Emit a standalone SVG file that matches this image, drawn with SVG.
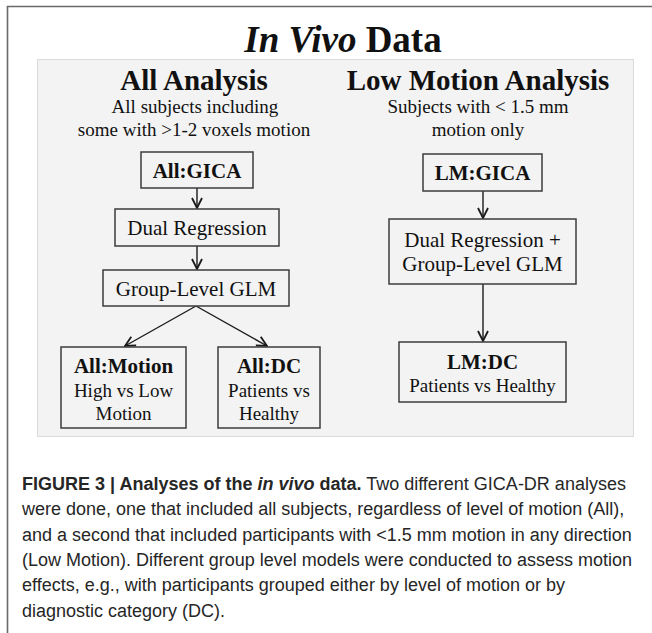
<svg xmlns="http://www.w3.org/2000/svg" width="652" height="633" viewBox="0 0 652 633">
<style>
.serif{font-family:"Liberation Serif","Times New Roman",serif;fill:#111;text-anchor:middle}
.h{font-size:29px;font-weight:bold}
.sub{font-size:19px}
.nb{font-size:21px;font-weight:bold}
.nt{font-size:21px}
.ns{font-size:19px}
.box{fill:#f3f3f3;stroke:#3c3c3c;stroke-width:1.5}
.conn{stroke:#1a1a1a;stroke-width:1.4;fill:none}
.cap{font-family:"Liberation Sans",Arial,sans-serif;font-size:18px;fill:#262626}
</style>
<defs>
<marker id="arr" viewBox="0 0 12 12" refX="11" refY="6" markerWidth="12" markerHeight="12" markerUnits="userSpaceOnUse" orient="auto">
<path d="M1,1 L11,6 L1,11" fill="none" stroke="#1a1a1a" stroke-width="1.8"/>
</marker>
</defs>
<rect width="652" height="633" fill="#fff"/>
<path d="M7.5,633 V6.5 H652" fill="none" stroke="#6a6a6a" stroke-width="1.6"/>
<rect x="37.5" y="59.5" width="596" height="377" fill="#f3f3f3" stroke="#dadada" stroke-width="1"/>
<text class="serif" x="343" y="52" font-size="37" font-weight="bold"><tspan font-style="italic">In Vivo</tspan> Data</text>
<g id="all-header">
<text class="serif h" x="194" y="90">All Analysis</text>
<text class="serif sub" x="195" y="113">All subjects including</text>
<text class="serif sub" x="194" y="136">some with &gt;1-2 voxels motion</text>
</g>
<g id="lm-header">
<text class="serif h" x="478" y="90">Low Motion Analysis</text>
<text class="serif sub" x="478" y="113">Subjects with &lt; 1.5 mm</text>
<text class="serif sub" x="478" y="136">motion only</text>
</g>
<g id="connectors">
<line class="conn" x1="197" y1="188" x2="197" y2="208" marker-end="url(#arr)"/>
<line class="conn" x1="197" y1="246" x2="197" y2="269" marker-end="url(#arr)"/>
<line class="conn" x1="196" y1="306" x2="125" y2="346" marker-end="url(#arr)"/>
<line class="conn" x1="196" y1="306" x2="267" y2="346" marker-end="url(#arr)"/>
<line class="conn" x1="483" y1="191" x2="483" y2="218" marker-end="url(#arr)"/>
<line class="conn" x1="483" y1="284" x2="483" y2="341" marker-end="url(#arr)"/>
</g>
<g id="all-gica">
<rect class="box" x="141" y="152" width="112" height="36"/>
<text class="serif nb" x="197" y="178">All:GICA</text>
</g>
<g id="all-dual-regression">
<rect class="box" x="115" y="209" width="164" height="37"/>
<text class="serif nt" x="197" y="235">Dual Regression</text>
</g>
<g id="all-group-glm">
<rect class="box" x="103" y="270" width="186" height="36"/>
<text class="serif nt" x="196" y="296">Group-Level GLM</text>
</g>
<g id="all-motion">
<rect class="box" x="61" y="347" width="125" height="81"/>
<text class="serif nb" x="123.5" y="373">All:Motion</text>
<text class="serif ns" x="123.5" y="397">High vs Low</text>
<text class="serif ns" x="123.5" y="420">Motion</text>
</g>
<g id="all-dc">
<rect class="box" x="218" y="347" width="102" height="81"/>
<text class="serif nb" x="269" y="373">All:DC</text>
<text class="serif ns" x="269" y="397">Patients vs</text>
<text class="serif ns" x="269" y="420">Healthy</text>
</g>
<g id="lm-gica">
<rect class="box" x="423" y="154" width="119" height="37"/>
<text class="serif nb" x="482.5" y="180">LM:GICA</text>
</g>
<g id="lm-dual-glm">
<rect class="box" x="389" y="219" width="187" height="65"/>
<text class="serif nt" x="482.5" y="247">Dual Regression +</text>
<text class="serif nt" x="482.5" y="271">Group-Level GLM</text>
</g>
<g id="lm-dc">
<rect class="box" x="399" y="342" width="167" height="60"/>
<text class="serif nb" x="482.5" y="369">LM:DC</text>
<text class="serif ns" x="482.5" y="392">Patients vs Healthy</text>
</g>
<g id="caption">
<text class="cap" x="22" y="490"><tspan font-weight="bold">FIGURE 3 | Analyses of the <tspan font-style="italic">in vivo</tspan> data.</tspan> Two different GICA-DR analyses</text>
<text class="cap" x="22" y="515">were done, one that included all subjects, regardless of level of motion (All),</text>
<text class="cap" x="22" y="540.5">and a second that included participants with &lt;1.5 mm motion in any direction</text>
<text class="cap" x="22" y="566">(Low Motion). Different group level models were conducted to assess motion</text>
<text class="cap" x="22" y="591">effects, e.g., with participants grouped either by level of motion or by</text>
<text class="cap" x="22" y="616.5">diagnostic category (DC).</text>
</g>
</svg>
